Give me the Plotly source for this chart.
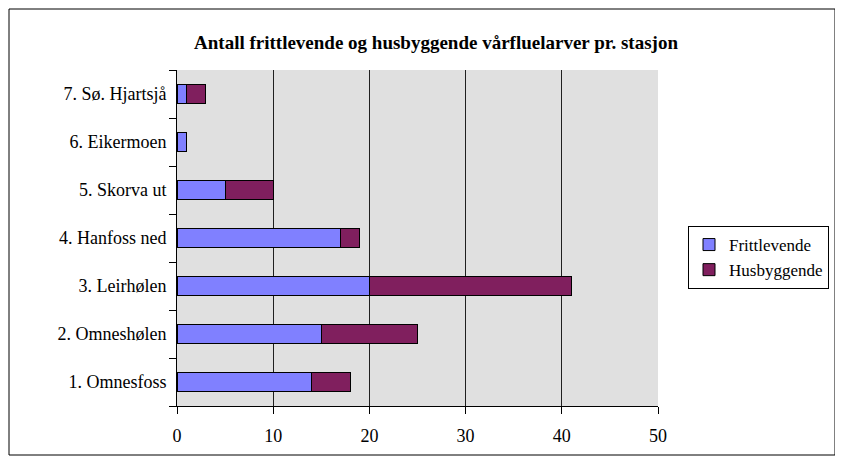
import plotly.graph_objects as go

categories = ["1. Omnesfoss", "2. Omneshølen", "3. Leirhølen", "4. Hanfoss ned",
              "5. Skorva ut", "6. Eikermoen", "7. Sø. Hjartsjå"]
frittlevende = [14, 15, 20, 17, 5, 1, 1]
husbyggende = [4, 10, 21, 2, 5, 0, 2]
x_ticks = [0, 10, 20, 30, 40, 50]

FONT = "Liberation Serif"

fig = go.Figure()
fig.add_trace(go.Bar(y=categories, x=frittlevende, orientation="h", name="Frittlevende",
                     marker=dict(color="#8080FF", line=dict(color="#000000", width=1))))
fig.add_trace(go.Bar(y=categories, x=husbyggende, orientation="h", name="Husbyggende",
                     marker=dict(color="#801F5E", line=dict(color="#000000", width=1))))

# page body margin of 8px offsets the figure; work in figure coords
OFF = 8
W, H = 843 - OFF, 459 - OFF
L, R, T, B = 177 - OFF, 658 - OFF, 70 - OFF, 406 - OFF
pw, ph = R - L, B - T

def px(x):
    return (x - OFF - L) / pw

def py(y):
    return (B - (y - OFF)) / ph

fig.update_layout(
    width=W, height=H,
    barmode="stack", bargap=0.6,
    margin=dict(l=L, r=W - R, t=T, b=H - B, autoexpand=False),
    paper_bgcolor="white", plot_bgcolor="#E0E0E0",
    font=dict(family=FONT, size=18, color="black"),
    title=dict(text="<b>Antall frittlevende og husbyggende vårfluelarver pr. stasjon</b>",
               x=(436 - OFF) / W, xanchor="center", y=1 - (42 - OFF) / H, yanchor="middle",
               font=dict(family=FONT, size=19, color="black")),
    showlegend=True,
    legend=dict(x=px(688), y=py(226), xanchor="left", yanchor="top",
                bordercolor="black", borderwidth=1, bgcolor="white",
                traceorder="normal", font=dict(family=FONT, size=17),
                itemwidth=30, tracegroupgap=0),
    xaxis=dict(range=[0, 50], tickvals=x_ticks, showgrid=True, gridcolor="#202020",
               gridwidth=1, showline=True, linecolor="black", linewidth=1,
               ticks="outside", ticklen=7, tickcolor="black", zeroline=False,
               tickfont=dict(family=FONT, size=18), ticklabelstandoff=6,
               automargin=False, fixedrange=True),
    yaxis=dict(categoryorder="array", categoryarray=categories, showline=True,
               linecolor="black", linewidth=1, ticks="outside", ticklen=7,
               tickcolor="black", tickson="boundaries", showgrid=False,
               tickfont=dict(family=FONT, size=18), ticklabelstandoff=6,
               automargin=False, fixedrange=True),
    shapes=[dict(type="rect", xref="paper", yref="paper",
                 x0=px(9), x1=px(835), y0=py(455), y1=py(9),
                 line=dict(color="black", width=1), fillcolor="rgba(0,0,0,0)", layer="below")],
)

fig.write_html("out.html")
